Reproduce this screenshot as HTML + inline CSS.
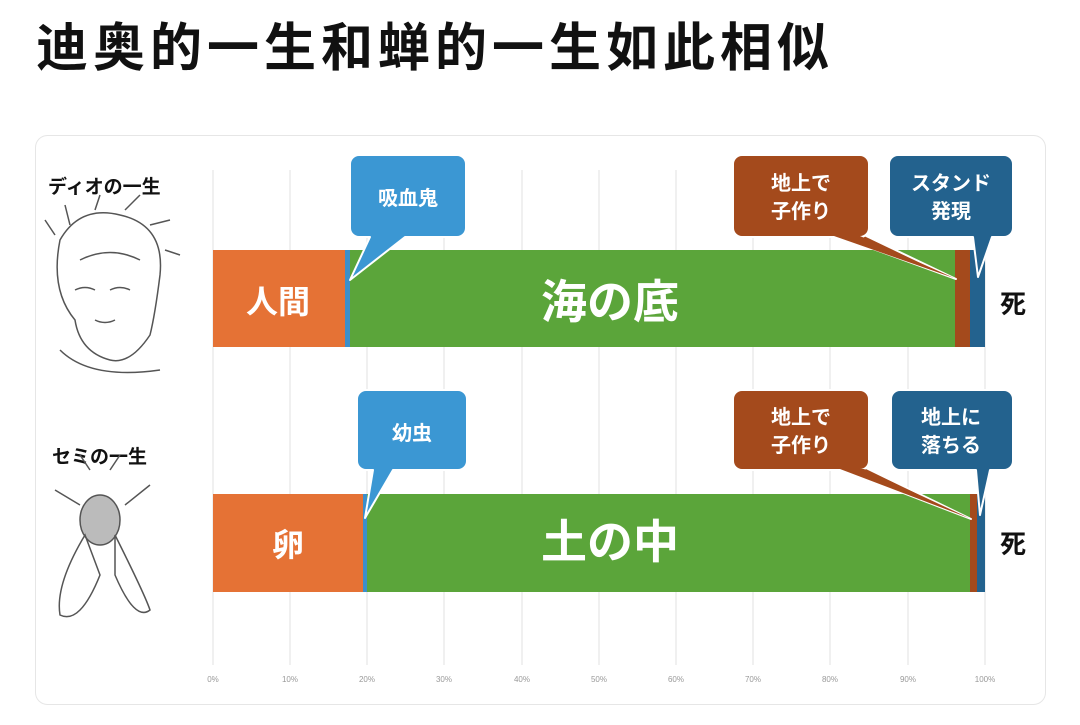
<!DOCTYPE html>
<html><head><meta charset="utf-8"><style>
body{margin:0;background:#fff;width:1080px;height:720px;overflow:hidden;font-family:"Liberation Sans","Noto Sans CJK JP",sans-serif}
</style></head><body>
<svg width="1080" height="720" xmlns="http://www.w3.org/2000/svg" font-family="'Liberation Sans','Noto Sans CJK JP',sans-serif">
<text x="36" y="66" font-size="52" font-weight="bold" letter-spacing="5" fill="#111" font-family="'Liberation Sans','Noto Sans CJK SC',sans-serif">迪奥的一生和蝉的一生如此相似</text>
<rect x="35.5" y="135.5" width="1010" height="569" rx="12" fill="#fff" stroke="#e6e6e6"/>
<g stroke="#ececec" stroke-width="1.5">
<line x1="213" y1="170" x2="213" y2="665"/><line x1="290" y1="170" x2="290" y2="665"/><line x1="367" y1="170" x2="367" y2="665"/><line x1="444" y1="170" x2="444" y2="665"/><line x1="522" y1="170" x2="522" y2="665"/><line x1="599" y1="170" x2="599" y2="665"/><line x1="676" y1="170" x2="676" y2="665"/><line x1="753" y1="170" x2="753" y2="665"/><line x1="830" y1="170" x2="830" y2="665"/><line x1="908" y1="170" x2="908" y2="665"/><line x1="985" y1="170" x2="985" y2="665"/>
</g>
<g font-size="8" fill="#999" text-anchor="middle">
<text x="213" y="682">0%</text><text x="290" y="682">10%</text><text x="367" y="682">20%</text><text x="444" y="682">30%</text><text x="522" y="682">40%</text><text x="599" y="682">50%</text><text x="676" y="682">60%</text><text x="753" y="682">70%</text><text x="830" y="682">80%</text><text x="908" y="682">90%</text><text x="985" y="682">100%</text>
</g>
<rect x="213" y="250" width="132" height="97" fill="#e57235"/>
<rect x="345" y="250" width="5" height="97" fill="#3b8fcb"/>
<rect x="350" y="250" width="605" height="97" fill="#5ba53a"/>
<rect x="955" y="250" width="15" height="97" fill="#a44a1c"/>
<rect x="970" y="250" width="15" height="97" fill="#23628e"/>
<rect x="213" y="494" width="150" height="98" fill="#e57235"/>
<rect x="363" y="494" width="4" height="98" fill="#3b8fcb"/>
<rect x="367" y="494" width="603" height="98" fill="#5ba53a"/>
<rect x="970" y="494" width="7" height="98" fill="#a44a1c"/>
<rect x="977" y="494" width="8" height="98" fill="#23628e"/>
<g fill="#fff" font-weight="bold" text-anchor="middle">
<text x="278" y="313" font-size="32">人間</text>
<text x="610" y="318" font-size="46">海の底</text>
<text x="288" y="556" font-size="32">卵</text>
<text x="610" y="558" font-size="46">土の中</text>
</g>
<g font-weight="bold" font-size="26" fill="#111"><text x="1000" y="313">死</text><text x="1000" y="553">死</text></g>
<g stroke="#fff" stroke-width="2" stroke-linejoin="round">
<polygon points="832,234 862,234 956,279" fill="#a44a1c"/>
<polygon points="838,468 866,468 971,519" fill="#a44a1c"/>
<path d="M359 155h98a9 9 0 0 1 9 9v64a9 9 0 0 1 -9 9h-52l-55 43l20-43h-11a9 9 0 0 1 -9-9v-64a9 9 0 0 1 9-9z" fill="#3b97d3"/>
<rect x="733" y="155" width="136" height="82" rx="9" fill="#a44a1c"/>
<path d="M898 155h106a9 9 0 0 1 9 9v64a9 9 0 0 1 -9 9h-12l-14 40l-5-40h-75a9 9 0 0 1 -9-9v-64a9 9 0 0 1 9-9z" fill="#23628e"/>
<path d="M366 390h92a9 9 0 0 1 9 9v62a9 9 0 0 1 -9 9h-65l-28 48l8-48h-7a9 9 0 0 1 -9-9v-62a9 9 0 0 1 9-9z" fill="#3b97d3"/>
<rect x="733" y="390" width="136" height="80" rx="9" fill="#a44a1c"/>
<path d="M900 390h104a9 9 0 0 1 9 9v62a9 9 0 0 1 -9 9h-14l-10 45l-4-45h-76a9 9 0 0 1 -9-9v-62a9 9 0 0 1 9-9z" fill="#23628e"/>
</g>
<polygon points="834,236 860,236 954,278" fill="#a44a1c"/>
<polygon points="840,469 864,469 969,518" fill="#a44a1c"/>
<g fill="#fff" font-weight="bold" font-size="20" text-anchor="middle">
<text x="408" y="205">吸血鬼</text>
<text x="801" y="190">地上で</text><text x="801" y="218">子作り</text>
<text x="951" y="190">スタンド</text><text x="951" y="218">発現</text>
<text x="412" y="440">幼虫</text>
<text x="801" y="424">地上で</text><text x="801" y="452">子作り</text>
<text x="951" y="424">地上に</text><text x="951" y="452">落ちる</text>
</g>
<g font-weight="bold" font-size="19" fill="#111">
<text x="48" y="193">ディオの一生</text>
<text x="52" y="463">セミの一生</text>
</g>
<g fill="none" stroke="#555" stroke-width="1.5">
<path d="M60 240q20-35 60-25q45 10 40 60q-5 40-10 60q-20 30-40 25q-30-8-35-40q-25-30-15-80z"/>
<path d="M55 235l-10-15m25 5l-5-20m30 5l5-15m25 15l15-15m10 30l20-5m-5 30l15 5" />
<path d="M75 290q10-5 20 0m15 0q10-5 20 0M95 320q10 5 20 0M80 260q30-15 60 0"/>
<path d="M60 350q30 30 100 20"/>
</g>
<g fill="none" stroke="#555" stroke-width="1.5">
<ellipse cx="100" cy="520" rx="20" ry="25" fill="#bbb"/>
<path d="M85 535q-30 50-25 80q20 10 40-40zM115 535q30 60 35 75q-15 12-35-35z"/>
<path d="M80 505l-25-15m70 15l25-20m-60-15l-10-15m30 15l10-15"/>
</g>
</svg>
</body></html>
